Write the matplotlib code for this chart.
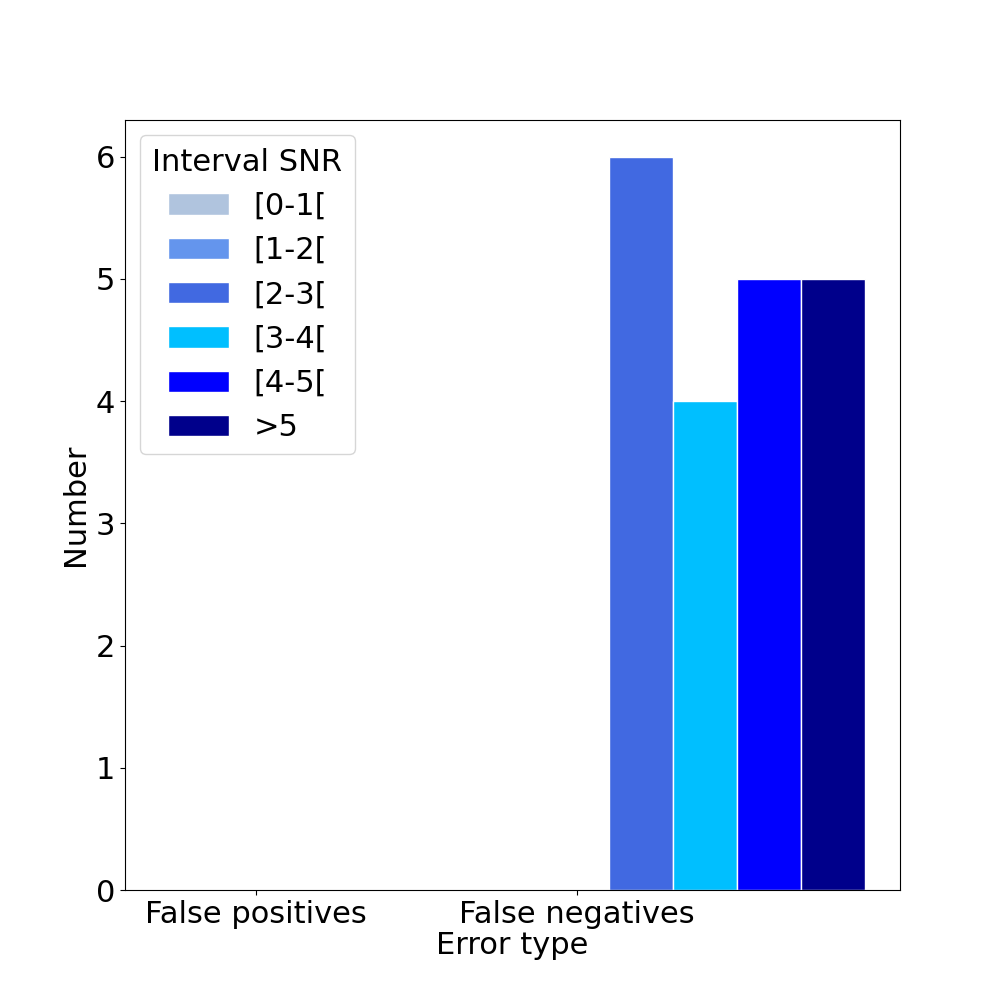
import matplotlib
matplotlib.use("Agg")
import matplotlib.pyplot as plt
import numpy as np

categories = ["False positives", "False negatives"]
series = ["[0-1[", "[1-2[", "[2-3[", "[3-4[", "[4-5[", ">5"]
values = [[0, 0], [0, 0], [0, 6], [0, 4], [0, 5], [0, 5]]
colors = ["lightsteelblue", "cornflowerblue", "royalblue", "deepskyblue", "blue", "darkblue"]

plt.rcParams["font.size"] = 22
fig, ax = plt.subplots(figsize=(10, 10), dpi=100)
x = np.arange(len(categories))
w = 0.2
for i, (s, v, c) in enumerate(zip(series, values, colors)):
    ax.bar(x + w * (i - 1), v, w, label=s, color=c, edgecolor="white")
ax.set_xticks(x)
ax.set_xticklabels(categories)
ax.set_xlabel("Error type", labelpad=2)
ax.set_ylabel("Number")
ax.legend(title="Interval SNR", loc="upper left")
fig.subplots_adjust(left=0.125, right=0.9, top=0.88, bottom=0.11)
fig.savefig("out.png")
